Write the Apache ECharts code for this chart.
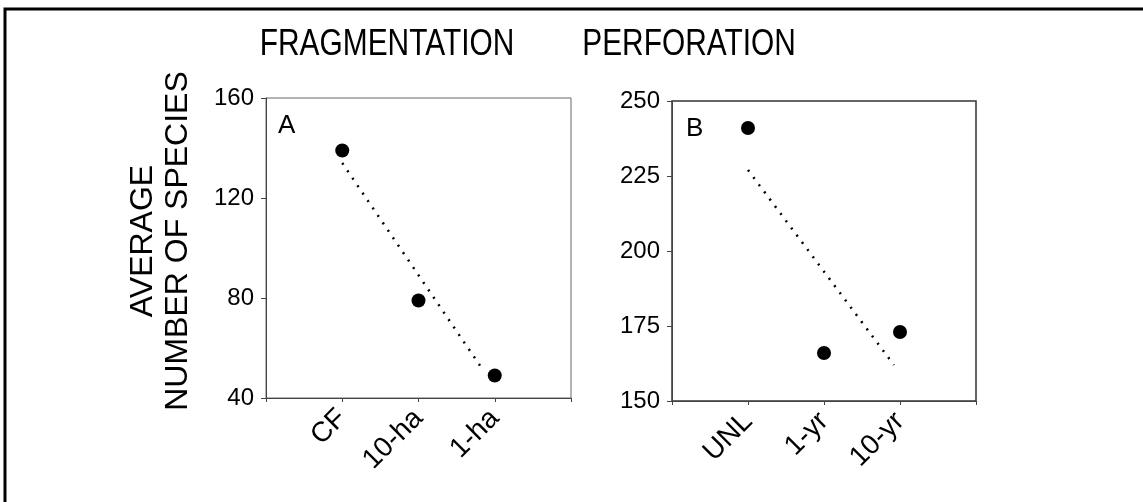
<!DOCTYPE html>
<html lang="en">
<head>
  <meta charset="UTF-8">
  <title>Fragmentation / Perforation</title>
  <script src="https://cdn.jsdelivr.net/npm/echarts@6/dist/echarts.min.js"></script>
  <style>
    html, body { margin: 0; padding: 0; background: #fff; }
    #chart { width: 1143px; height: 502px; }
  </style>
</head>
<body>
<div id="chart"></div>
<script>
  // panel A - fragmentation
  const fragCategories = ['CF', '10-ha', '1-ha'];
  const fragValues = [139, 79, 49];
  const fragFit = [[1, 134], [2.85, 51]];   // dotted regression segment
  const fragTicks = [40, 80, 120, 160];

  // panel B - perforation
  const perfCategories = ['UNL', '1-yr', '10-yr'];
  const perfValues = [241, 166, 173];
  const perfFit = [[1, 227], [2.92, 162]];
  const perfTicks = [150, 175, 200, 225, 250];

  const FONT = 'Liberation Sans, Arial, sans-serif';

  function xAxisFor(gridIndex, cats) {
    return {
      type: 'value', gridIndex: gridIndex,
      min: 0, max: cats.length + 1, interval: 1,
      axisLine: { lineStyle: { color: '#444', width: 1 } },
      axisTick: { show: true, length: 4, lineStyle: { color: '#444' } },
      splitLine: { show: false },
      axisLabel: {
        rotate: 45, margin: 16, color: '#000', fontFamily: FONT, fontSize: 28,
        formatter: function (v) { return cats[v - 1] || ''; }
      }
    };
  }

  function yAxisFor(gridIndex, ticks, name) {
    return {
      type: 'value', gridIndex: gridIndex,
      min: ticks[0], max: ticks[ticks.length - 1],
      interval: ticks[1] - ticks[0],
      name: name, nameLocation: 'middle', nameRotate: 90, nameGap: 70,
      nameTextStyle: { color: '#000', fontFamily: FONT, fontSize: 32, lineHeight: 35,
                       padding: [0, 0, 0, 14] },
      axisLine: { show: true, lineStyle: { color: '#444', width: 1 } },
      axisTick: { show: true, length: 5, lineStyle: { color: '#444' } },
      splitLine: { show: false },
      axisLabel: { margin: 12, color: '#000', fontFamily: FONT, fontSize: 24 }
    };
  }

  function pts(values) {
    return values.map((v, i) => [i + 1, v]);
  }

  // condensed headline text (no narrow font available, so squeeze it)
  function headline(text, cx) {
    return {
      type: 'text', x: cx, y: 26, scaleX: 0.83, scaleY: 1.04, silent: true,
      style: { text: text, x: 0, y: 0, align: 'center', verticalAlign: 'top',
               fontFamily: FONT, fontSize: 36, fill: '#000' }
    };
  }

  const chart = echarts.init(document.getElementById('chart'), null, { renderer: 'canvas' });
  chart.setOption({
    animation: false,
    backgroundColor: '#fff',
    grid: [
      { left: 266, top: 98, width: 305, height: 300, show: true, borderColor: '#666', borderWidth: 1, backgroundColor: 'transparent' },
      { left: 672, top: 101, width: 304, height: 300, show: true, borderColor: '#333', borderWidth: 1.5, backgroundColor: 'transparent' }
    ],
    xAxis: [xAxisFor(0, fragCategories), xAxisFor(1, perfCategories)],
    yAxis: [yAxisFor(0, fragTicks, 'AVERAGE\nNUMBER OF SPECIES'), yAxisFor(1, perfTicks, '')],
    graphic: [
      { type: 'polyline', silent: true,
        shape: { points: [[5, 502], [5, 9], [1143, 9]] },
        style: { stroke: '#000', lineWidth: 3, fill: null } },
      headline('FRAGMENTATION', 387),
      headline('PERFORATION', 689),
      { type: 'text', left: 278, top: 113,
        style: { text: 'A', fontFamily: FONT, fontSize: 26, fill: '#000' } },
      { type: 'text', left: 686, top: 116,
        style: { text: 'B', fontFamily: FONT, fontSize: 26, fill: '#000' } }
    ],
    series: [
      { type: 'line', xAxisIndex: 0, yAxisIndex: 0, data: fragFit, symbol: 'none',
        lineStyle: { color: '#000', width: 2.5, type: [2, 7] } },
      { type: 'scatter', xAxisIndex: 0, yAxisIndex: 0, data: pts(fragValues),
        symbolSize: 14, itemStyle: { color: '#000', opacity: 1 } },
      { type: 'line', xAxisIndex: 1, yAxisIndex: 1, data: perfFit, symbol: 'none',
        lineStyle: { color: '#000', width: 2.5, type: [2, 7] } },
      { type: 'scatter', xAxisIndex: 1, yAxisIndex: 1, data: pts(perfValues),
        symbolSize: 14, itemStyle: { color: '#000', opacity: 1 } }
    ]
  });
</script>
</body>
</html>
